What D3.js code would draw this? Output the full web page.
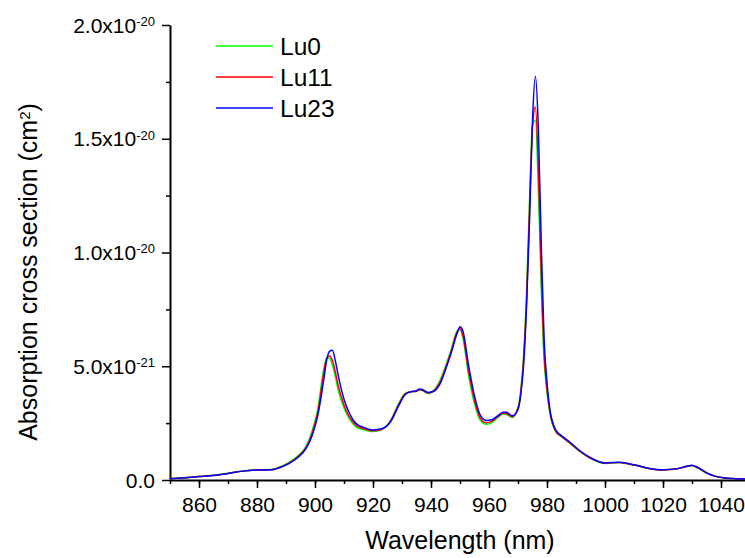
<!DOCTYPE html>
<html>
<head>
  <meta charset="utf-8">
  <title>Absorption cross section</title>
  <script src="https://cdn.jsdelivr.net/npm/d3@7"></script>
  <style>
    body { margin: 0; background: #fff; }
    text { font-family: "Liberation Sans", Arial, sans-serif; fill: #000; }
  </style>
</head>
<body>
<div id="chart"></div>
<script>
// wavelength grid (nm)
var wavelength = [850, 855, 860, 865, 870, 875, 880, 885, 888, 891, 894, 897, 899, 901, 903, 904, 905, 906, 907, 908,
  910, 912, 914, 917, 920, 923, 926, 929, 931, 933, 935, 936, 937, 939, 941, 943, 945, 947, 949, 950,
  951, 953, 955, 957, 959, 961, 963, 965, 966, 968, 970, 971, 972, 973, 974, 975, 976, 977, 978, 979,
  980, 981, 983, 985, 988, 991, 995, 1000, 1005, 1010, 1015, 1020, 1025, 1028, 1030, 1032, 1035, 1038, 1041, 1045, 1050];

// cross section values in units of 1e-21 cm2
var lu0 = [0.05, 0.10, 0.15, 0.21, 0.30, 0.40, 0.45, 0.46, 0.58, 0.77, 1.05, 1.50, 2.15, 3.15, 4.85, 5.35, 5.35, 5.05, 4.55, 3.95,
  3.15, 2.65, 2.35, 2.20, 2.13, 2.22, 2.60, 3.40, 3.80, 3.88, 3.90, 3.96, 3.93, 3.80, 3.95, 4.35, 5.00, 5.75, 6.55, 6.62,
  6.25, 4.55, 3.35, 2.62, 2.45, 2.52, 2.74, 2.90, 2.88, 2.75, 3.20, 4.00, 5.60, 8.40, 12.4, 15.6, 15.8, 12.8, 8.50, 5.30,
  3.85, 2.92, 2.12, 1.90, 1.60, 1.28, 0.95, 0.73, 0.77, 0.66, 0.51, 0.44, 0.49, 0.59, 0.63, 0.53, 0.30, 0.16, 0.09, 0.05, 0.04];

var lu11 = [0.05, 0.10, 0.15, 0.20, 0.29, 0.39, 0.44, 0.45, 0.56, 0.74, 1.01, 1.45, 2.05, 3.00, 4.70, 5.35, 5.45, 5.25, 4.75, 4.15,
  3.30, 2.75, 2.42, 2.25, 2.16, 2.23, 2.58, 3.35, 3.78, 3.88, 3.90, 3.97, 3.95, 3.82, 3.92, 4.28, 4.92, 5.68, 6.50, 6.65,
  6.35, 4.75, 3.50, 2.72, 2.52, 2.58, 2.78, 2.93, 2.92, 2.78, 3.15, 3.90, 5.40, 8.10, 12.0, 15.5, 16.4, 13.8, 9.20, 5.60,
  4.00, 3.00, 2.15, 1.92, 1.62, 1.30, 0.96, 0.74, 0.77, 0.66, 0.51, 0.44, 0.49, 0.59, 0.64, 0.54, 0.31, 0.16, 0.09, 0.05, 0.04];

var lu23 = [0.05, 0.10, 0.15, 0.20, 0.29, 0.39, 0.44, 0.45, 0.55, 0.72, 0.98, 1.40, 1.95, 2.85, 4.40, 5.25, 5.65, 5.70, 5.25, 4.60,
  3.55, 2.90, 2.50, 2.30, 2.20, 2.25, 2.55, 3.30, 3.75, 3.88, 3.92, 4.00, 3.98, 3.85, 3.90, 4.20, 4.85, 5.60, 6.45, 6.74,
  6.55, 5.00, 3.70, 2.85, 2.62, 2.65, 2.82, 2.98, 2.98, 2.82, 3.10, 3.80, 5.20, 7.80, 11.5, 15.8, 17.75, 15.5, 10.5, 6.20,
  4.30, 3.10, 2.20, 1.95, 1.65, 1.32, 0.98, 0.75, 0.78, 0.67, 0.52, 0.45, 0.50, 0.60, 0.65, 0.55, 0.32, 0.17, 0.10, 0.06, 0.04];

var seriesNames = ["Lu0", "Lu11", "Lu23"];
var seriesColors = ["#00ff00", "#ff0000", "#0000ff"];

var xMajorTicks = [860, 880, 900, 920, 940, 960, 980, 1000, 1020, 1040];
var yMajorTicks = [0, 5, 10, 15, 20];
var yTickMantissa = ["0.0", "5.0x10", "1.0x10", "1.5x10", "2.0x10"];
var yTickExponent = ["", "-21", "-20", "-20", "-20"];

var W = 745, H = 558;
var svg = d3.select("#chart").append("svg")
  .attr("width", W).attr("height", H);

var x = d3.scaleLinear().domain([850, 1050]).range([170, 750]);
var y = d3.scaleLinear().domain([0, 20]).range([480, 25]);

// minor ticks
svg.append("g")
  .attr("transform", "translate(0,480)")
  .call(d3.axisBottom(x).tickValues(d3.range(850, 1051, 10)).tickSize(4).tickFormat(""))
  .call(function(g) { g.select(".domain").remove(); g.selectAll("line").attr("stroke-width", 1.5); });
svg.append("g")
  .attr("transform", "translate(170,0)")
  .call(d3.axisLeft(y).tickValues([2.5, 7.5, 12.5, 17.5]).tickSize(4).tickFormat(""))
  .call(function(g) { g.select(".domain").remove(); g.selectAll("line").attr("stroke-width", 1.5); });

// x axis
var xAxis = svg.append("g")
  .attr("transform", "translate(0,480)")
  .call(d3.axisBottom(x).tickValues(xMajorTicks).tickSize(8).tickSizeOuter(0).tickPadding(9)
    .tickFormat(d3.format("d")));
xAxis.select(".domain").attr("stroke-width", 2);
xAxis.selectAll("line").attr("stroke-width", 1.5);
xAxis.selectAll("text").style("font-size", "21px").attr("font-family", null);

// y axis
var yAxis = svg.append("g")
  .attr("transform", "translate(170,0)")
  .call(d3.axisLeft(y).tickValues(yMajorTicks).tickSize(8).tickSizeOuter(0).tickFormat(""));
yAxis.select(".domain").attr("stroke-width", 2);
yAxis.selectAll("line").attr("stroke-width", 1.5);
yAxis.selectAll(".tick").each(function(d, i) {
  var t = d3.select(this).select("text")
    .attr("x", -15).attr("dy", "0.34em")
    .attr("text-anchor", "end")
    .attr("font-family", null)
    .style("font-size", "21px");
  t.append("tspan").text(yTickMantissa[i]);
  if (yTickExponent[i]) {
    t.append("tspan").attr("dy", "-0.52em").style("font-size", "13px").text(yTickExponent[i]);
  }
});

// lines
var line = d3.line()
  .x(function(d) { return x(d[0]); })
  .y(function(d) { return y(d[1]); })
  .curve(d3.curveMonotoneX);

[lu0, lu11, lu23].forEach(function(vals, k) {
  svg.append("path")
    .datum(wavelength.map(function(w, i) { return [w, vals[i]]; }))
    .attr("fill", "none")
    .attr("stroke", seriesColors[k])
    .attr("stroke-width", 1.5)
    .attr("d", line);
});

// legend
seriesNames.forEach(function(name, k) {
  var ly = 46 + k * 31;
  svg.append("line")
    .attr("x1", 216).attr("x2", 273)
    .attr("y1", ly).attr("y2", ly)
    .attr("stroke", seriesColors[k]).attr("stroke-width", 1.4);
  svg.append("text")
    .attr("x", 280).attr("y", ly + 9)
    .style("font-size", "24.5px")
    .text(name);
});

// axis titles
svg.append("text")
  .attr("x", 460).attr("y", 549)
  .attr("text-anchor", "middle")
  .style("font-size", "25px")
  .text("Wavelength (nm)");

var yt = svg.append("text")
  .attr("transform", "translate(37,272) rotate(-90)")
  .attr("text-anchor", "middle")
  .style("font-size", "25px");
yt.append("tspan").text("Absorption cross section (cm");
yt.append("tspan").attr("dy", "-0.5em").style("font-size", "15px").text("2");
yt.append("tspan").attr("dy", "0.3em").text(")");
</script>
</body>
</html>
